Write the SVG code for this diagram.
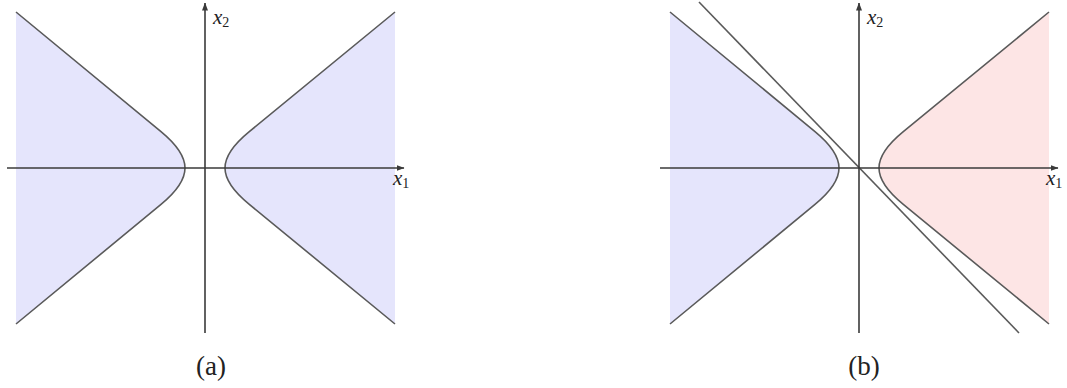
<svg xmlns="http://www.w3.org/2000/svg" width="1067" height="388" viewBox="0 0 1067 388">
<style>
.bg{fill:#ffffff}
.blue{fill:#e5e5fc;stroke:none}
.red{fill:#fde5e5;stroke:none}
.curve{fill:none;stroke:#5a5a5a;stroke-width:1.6}
.axis{fill:none;stroke:#3a3a3a;stroke-width:1.6}
.lbl{font-family:"Liberation Serif",serif;font-style:italic;font-size:21px;fill:#222}
.sub{font-family:"Liberation Serif",serif;font-style:normal;font-size:14px}
.cap{font-family:"Liberation Serif",serif;font-size:27px;fill:#222;text-anchor:middle}
</style>
<defs>
<marker id="arr" viewBox="0 0 8 6" refX="7.5" refY="3" markerWidth="8" markerHeight="6" markerUnits="userSpaceOnUse" orient="auto">
<path d="M0,0 L8,3 L0,6 Z" fill="#3a3a3a"/>
</marker>
</defs>
<rect class="bg" x="0" y="0" width="1067" height="388"/>

<g id="panel-a">
  <g id="a-left-region">
    <path class="blue" d="M16,12 L161,131.6 Q185,151.4 185,168 Q185,184.6 161,204.4 L16,324 Z"/>
    <path class="curve" d="M16,12 L161,131.6 Q185,151.4 185,168 Q185,184.6 161,204.4 L16,324"/>
  </g>
  <g id="a-right-region">
    <path class="blue" d="M395,12 L249,131.9 Q225,151.6 225,168 Q225,184.4 249,204.1 L395,324 Z"/>
    <path class="curve" d="M395,12 L249,131.9 Q225,151.6 225,168 Q225,184.4 249,204.1 L395,324"/>
  </g>
  <g id="a-axes">
    <line class="axis" x1="7" y1="168" x2="404" y2="168" marker-end="url(#arr)"/>
    <line class="axis" x1="205" y1="333" x2="205" y2="3" marker-end="url(#arr)"/>
  </g>
  <text id="a-x2" class="lbl" x="213" y="24">x<tspan class="sub" dy="3">2</tspan></text>
  <text id="a-x1" class="lbl" x="393" y="185">x<tspan class="sub" dy="3">1</tspan></text>
  <text id="a-caption" class="cap" x="211" y="375">(a)</text>
</g>

<g id="panel-b">
  <g id="b-left-region" transform="translate(654,0)">
    <path class="blue" d="M16,12 L161,131.6 Q185,151.4 185,168 Q185,184.6 161,204.4 L16,324 Z"/>
    <path class="curve" d="M16,12 L161,131.6 Q185,151.4 185,168 Q185,184.6 161,204.4 L16,324"/>
  </g>
  <g id="b-right-region" transform="translate(654,0)">
    <path class="red" d="M395,12 L249,131.9 Q225,151.6 225,168 Q225,184.4 249,204.1 L395,324 Z"/>
    <path class="curve" d="M395,12 L249,131.9 Q225,151.6 225,168 Q225,184.4 249,204.1 L395,324"/>
  </g>
  <g id="b-separator">
    <line class="curve" x1="699" y1="2" x2="1019" y2="333"/>
  </g>
  <g id="b-axes">
    <line class="axis" x1="660" y1="168" x2="1058" y2="168" marker-end="url(#arr)"/>
    <line class="axis" x1="859" y1="333" x2="859" y2="3" marker-end="url(#arr)"/>
  </g>
  <text id="b-x2" class="lbl" x="867" y="24">x<tspan class="sub" dy="3">2</tspan></text>
  <text id="b-x1" class="lbl" x="1046" y="185">x<tspan class="sub" dy="3">1</tspan></text>
  <text id="b-caption" class="cap" x="864" y="375">(b)</text>
</g>
</svg>
